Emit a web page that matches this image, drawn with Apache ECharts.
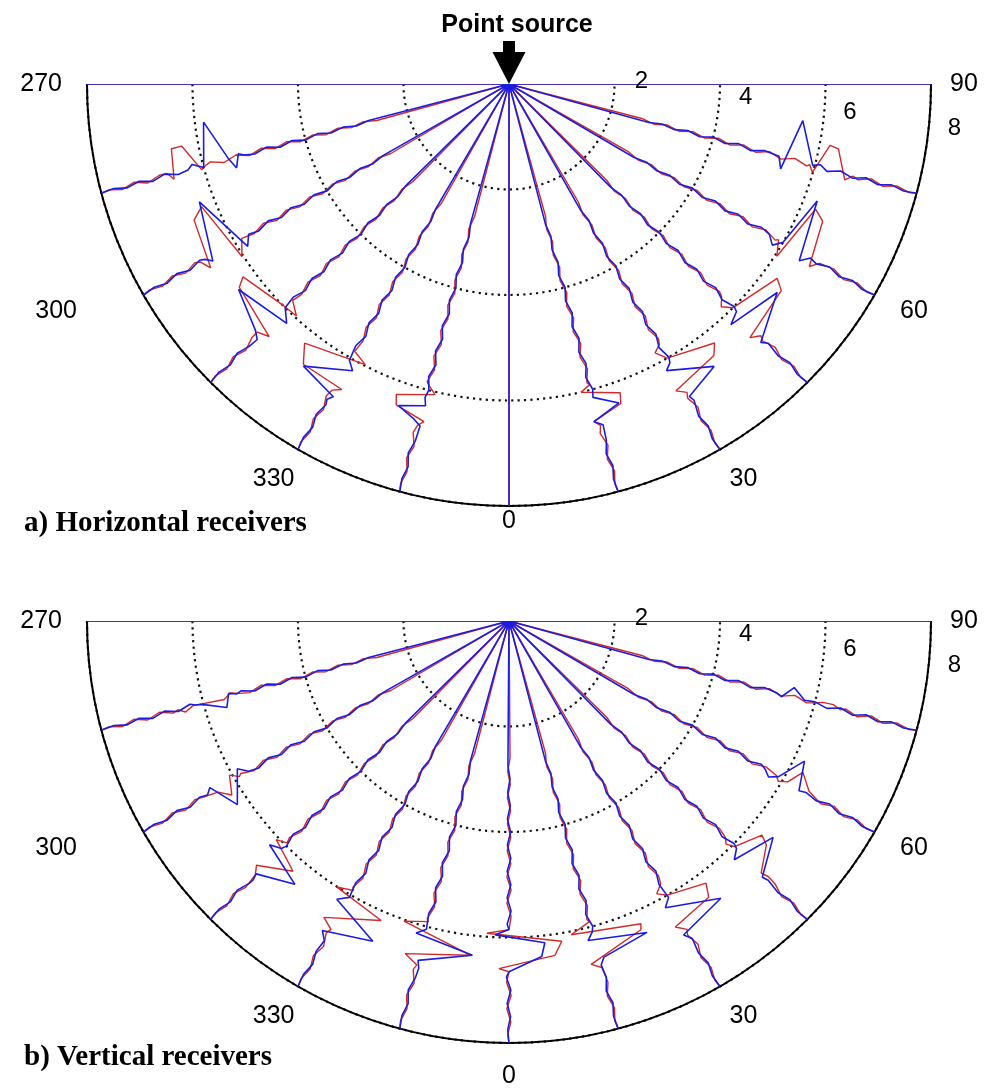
<!DOCTYPE html>
<html>
<head>
<meta charset="utf-8">
<title>Point source</title>
<script src="https://cdn.jsdelivr.net/npm/echarts@6/dist/echarts.min.js"></script>
<style>
  html, body { margin: 0; padding: 0; background: #fff; }
  #chart { width: 1001px; height: 1088px; }
</style>
</head>
<body>
<div id="chart"></div>
<script>
// receiver lines (degrees, negative = 270..345)
var lineAngles = [-90, -75, -60, -45, -30, -15, 0, 15, 30, 45, 60, 75, 90];
var angleTicks = [270, 300, 330, 0, 30, 60, 90];
var radiusTicks = [2, 4, 6, 8];
var rMax = 8;

// small wiggle seen along every trace: [distance, offset across line]
var rippleRed = [[2.6,0.02],[2.85,-0.025],[3.1,0.025],[3.35,-0.03],[3.6,0.03],[3.85,-0.03],[4.1,0.035],[4.35,-0.035],[4.6,0.035],[4.85,-0.04],[5.1,0.04],[5.35,-0.04],[5.6,0.04],[5.85,-0.04],[6.1,0.04],[6.35,-0.045],[6.6,0.04],[6.85,-0.045],[7.1,0.04],[7.35,-0.04],[7.6,0.035],[7.85,-0.025]];
var rippleBlue = [[2.75,-0.02],[3.0,0.02],[3.25,-0.025],[3.5,0.025],[3.75,-0.03],[4.0,0.03],[4.25,-0.03],[4.5,0.035],[4.75,-0.035],[5.0,0.035],[5.25,-0.035],[5.5,0.04],[5.75,-0.035],[6.0,0.035],[6.25,-0.04],[6.5,0.035],[6.75,-0.04],[7.0,0.035],[7.25,-0.035],[7.5,0.03],[7.75,-0.025]];

// main arrival on each line, one entry per lineAngles item (null = plain line)
// a) horizontal receivers
var horizRed = [
  null,
  [[5.95,0],[6.05,0.06],[6.3,-0.47],[6.5,-0.47],[6.6,0.1],[6.7,-0.04]],
  [[5.85,0],[6.02,0.3],[6.21,-0.9],[6.46,-0.75],[6.64,0.19],[6.75,0]],
  [[5.8,0],[5.96,0.26],[6.0,-0.1],[6.15,-0.98],[6.34,-0.89],[6.6,0.17],[6.7,-0.05]],
  [[5.85,0],[5.97,0.3],[6.19,-0.9],[6.55,-0.72],[6.6,0.15],[6.7,0]],
  [[5.9,0],[6.05,0.17],[6.24,-0.54],[6.43,-0.49],[6.6,0.1],[6.7,0]],
  null,
  [[5.9,0],[6.0,-0.19],[6.2,0.52],[6.4,0.48],[6.6,-0.1],[6.7,0]],
  [[5.7,0],[5.8,-0.15],[6.0,0],[6.2,0.92],[6.4,0.79],[6.62,-0.17],[6.75,0]],
  [[5.7,0],[5.83,-0.14],[6.0,0],[6.2,0.99],[6.42,0.88],[6.63,-0.17],[6.75,0]],
  [[5.9,0],[6.03,-0.29],[6.22,0.85],[6.45,0.72],[6.66,-0.15],[6.8,0]],
  [[5.9,0],[5.99,-0.13],[6.18,0.45],[6.35,0.43],[6.62,-0.11],[6.75,0]],
  null
];
var horizBlue = [
  null,
  [[5.2,0],[5.3,-0.05],[5.4,0.2],[5.5,0],[5.78,-0.8],[6.0,0.03],[6.2,-0.08],[6.3,0]],
  [[5.7,0],[5.83,0.19],[6.2,-1.0],[6.54,0.1],[6.65,0]],
  [[6.0,0],[6.19,0.23],[6.38,-0.87],[6.7,-0.1],[6.8,0.05]],
  [[6.05,0],[6.19,0.15],[6.58,-0.7],[6.8,0.08],[6.9,0]],
  [[6.15,0],[6.3,0.05],[6.43,-0.45],[6.6,-0.1],[6.7,0.05]],
  null,
  [[6.15,0],[6.38,0.45],[6.6,-0.1],[6.7,0.05]],
  [[6.1,0],[6.2,-0.13],[6.58,0.69],[6.84,0],[6.95,0.04]],
  [[6.1,0],[6.2,-0.25],[6.39,0.8],[6.84,-0.09],[6.95,0]],
  [[5.7,0],[5.85,-0.15],[6.0,0],[6.17,1.0],[6.44,-0.15],[6.6,0]],
  [[5.3,0],[5.39,-0.22],[5.56,0.77],[5.96,0],[6.1,0.05]],
  null
];
// b) vertical receivers
var vertRed = [
  null,
  [[5.3,0],[5.45,-0.05],[5.6,0.04],[6.2,0],[6.37,0.08],[6.5,0]],
  [[5.9,0],[6.05,-0.12],[6.2,0.23],[6.4,0.05],[6.67,0]],
  [[5.95,0],[6.05,-0.19],[6.25,0.46],[6.66,-0.11],[6.8,0]],
  [[5.9,0],[6.0,-0.31],[6.13,0.74],[6.62,-0.23],[6.75,0]],
  [[5.9,0],[6.01,-0.45],[6.31,0.93],[6.6,-0.27],[6.75,0]],
  [[5.85,0],[5.92,-0.42],[6.07,1.0],[6.34,0.87],[6.59,-0.19],[6.65,0]],
  [[5.9,0],[6.05,-0.4],[6.19,0.93],[6.3,0.9],[6.69,-0.18],[6.8,0]],
  [[5.75,0],[5.88,-0.16],[6.0,0],[6.17,0.75],[6.43,0.66],[6.6,-0.17],[6.75,0]],
  [[5.8,0],[5.9,-0.08],[6.05,0],[6.26,0.52],[6.45,0.45],[6.76,0],[6.9,0.05]],
  [[5.85,0],[5.94,-0.08],[6.1,0],[6.26,0.3],[6.54,0.05],[6.7,0]],
  [[6.0,0],[6.15,0.05],[6.35,0.06],[6.5,0]],
  null
];
var vertBlue = [
  null,
  [[5.35,0],[5.49,-0.05],[5.59,0.2],[6.03,0.02],[6.15,0]],
  [[5.7,0],[5.86,-0.15],[6.2,0.44],[6.49,-0.1],[6.6,0]],
  [[6.1,0],[6.21,-0.21],[6.4,0.66],[6.78,0],[6.9,0.04]],
  [[6.05,0],[6.2,-0.19],[6.55,0.8],[6.85,-0.13],[7.0,0]],
  [[6.05,0],[6.17,-0.17],[6.3,0.97],[6.66,0],[6.8,0.05]],
  [[5.85,0],[5.95,-0.26],[6.1,0.68],[6.36,0.62],[6.65,0],[6.75,-0.05]],
  [[6.1,0],[6.24,-0.12],[6.38,1.0],[6.62,0.09],[6.75,0]],
  [[6.05,0],[6.19,-0.15],[6.56,0.85],[6.81,-0.11],[6.95,0]],
  [[6.1,0],[6.22,-0.18],[6.44,0.64],[6.83,-0.04],[6.95,0]],
  [[5.6,0],[5.74,-0.1],[5.9,0],[6.18,0.5],[6.37,-0.04],[6.5,0]],
  [[5.25,0],[5.36,-0.05],[5.55,0.18],[5.8,0],[6.0,0.02]],
  null
];

var RED = '#d22a2a';
var BLUE = '#1c1ce0';
var SANS = 'Liberation Sans, Arial, sans-serif';
var SERIF = 'Liberation Serif, Times New Roman, serif';

// one trace -> polar points [radius, angle]
function tracePoints(angle, main, ripple) {
  var pts;
  if (!main) {
    pts = [[0, 0], [rMax, 0]];
  } else {
    var a = main[0][0], b = main[main.length - 1][0];
    pts = [[0, 0]]
      .concat(ripple.filter(function (p) { return p[0] < a - 0.05; }))
      .concat(main)
      .concat(ripple.filter(function (p) { return p[0] > b + 0.05; }))
      .concat([[rMax, 0]]);
  }
  return pts.map(function (p) {
    return [Math.hypot(p[0], p[1]), angle + Math.atan2(p[1], p[0]) * 180 / Math.PI];
  });
}

function allTraces(mains, ripple) {
  var data = [];
  lineAngles.forEach(function (ang, i) {
    if (i > 0) data.push('-');
    data = data.concat(tracePoints(ang, mains[i], ripple));
  });
  return data;
}

function angleLabel(v) {
  var s = v < 0 ? v + 360 : v;
  return '{l' + s + '|' + s + '}';
}

function labelRich(zeroPad) {
  return {
    l270: { padding: [0, 22, 0, 0] },
    l300: { padding: [2, 64, 0, 0] },
    l330: { padding: [15, 2, 0, 0] },
    l0: { padding: [zeroPad, 0, 0, 0] },
    l30: { padding: [15, 0, 0, 8] },
    l60: { padding: [2, 0, 0, 23] },
    l90: { padding: [0, 0, 0, 16] }
  };
}

function angleAxisFor(idx, zeroPad) {
  return {
    polarIndex: idx,
    type: 'value',
    min: -90,
    max: 90,
    interval: 30,
    startAngle: 180,
    endAngle: 360,
    clockwise: false,
    axisLine: { lineStyle: { color: '#000', width: 2 } },
    axisTick: { show: false },
    splitLine: { show: false },
    axisLabel: {
      margin: 3,
      color: '#000',
      fontSize: 25,
      fontFamily: SANS,
      formatter: angleLabel,
      rich: labelRich(zeroPad)
    }
  };
}

function radiusAxisFor(idx) {
  return {
    polarIndex: idx,
    type: 'value',
    min: 0,
    max: rMax,
    interval: 2,
    axisLine: { show: false },
    axisTick: { show: false },
    axisLabel: { show: false },
    splitLine: { show: true, lineStyle: { color: '#111', width: 2.2, type: [2.2, 4.2] } }
  };
}

function radiusLabels(idx) {
  return {
    type: 'scatter',
    coordinateSystem: 'polar',
    polarIndex: idx,
    silent: true,
    symbolSize: 0,
    itemStyle: { color: '#000', opacity: 1 },
    data: radiusTicks.map(function (r) { return [r, 81.5]; }),
    label: {
      show: true,
      position: 'inside',
      offset: [28, -18],
      color: '#000',
      fontSize: 24,
      fontFamily: SANS,
      formatter: function (p) { return String(p.value[0]); }
    },
    z: 5
  };
}

function traceSeries(idx, mains, ripple, color, width, z) {
  return {
    type: 'line',
    coordinateSystem: 'polar',
    polarIndex: idx,
    silent: true,
    showSymbol: false,
    connectNulls: false,
    lineStyle: { color: color, width: width },
    data: allTraces(mains, ripple),
    z: z
  };
}

var chart = echarts.init(document.getElementById('chart'));
chart.setOption({
  animation: false,
  backgroundColor: '#fff',
  title: [
    {
      text: 'a) Horizontal receivers', left: 24, top: 509, padding: 0,
      textStyle: { fontFamily: SERIF, fontWeight: 'bold', fontSize: 29, color: '#000' }
    },
    {
      text: 'b) Vertical receivers', left: 24, top: 1043, padding: 0,
      textStyle: { fontFamily: SERIF, fontWeight: 'bold', fontSize: 29, color: '#000' }
    }
  ],
  polar: [
    { center: [509, 84], radius: 422 },
    { center: [509, 621], radius: 422 }
  ],
  angleAxis: [angleAxisFor(0, 0), angleAxisFor(1, 18)],
  radiusAxis: [radiusAxisFor(0), radiusAxisFor(1)],
  series: [
    traceSeries(0, horizRed, rippleRed, RED, 1.4, 2),
    traceSeries(0, horizBlue, rippleBlue, BLUE, 1.6, 3),
    traceSeries(1, vertRed, rippleRed, RED, 1.4, 2),
    traceSeries(1, vertBlue, rippleBlue, BLUE, 1.6, 3),
    radiusLabels(0),
    radiusLabels(1),
    {
      // source marker
      type: 'scatter',
      coordinateSystem: 'polar',
      polarIndex: 0,
      silent: true,
      symbol: 'path://M10.5,0 L22.5,0 L22.5,11 L33,11 L16.5,43 L0,11 L10.5,11 Z',
      symbolSize: [33, 43],
      symbolOffset: [0, '-50%'],
      itemStyle: { color: '#000', opacity: 1 },
      data: [[0, 0]],
      label: {
        show: true,
        position: 'top',
        distance: 3,
        offset: [8, 0],
        formatter: 'Point source',
        color: '#000',
        fontSize: 25,
        fontWeight: 'bold',
        fontFamily: SANS
      },
      z: 6
    }
  ]
});
</script>
</body>
</html>
